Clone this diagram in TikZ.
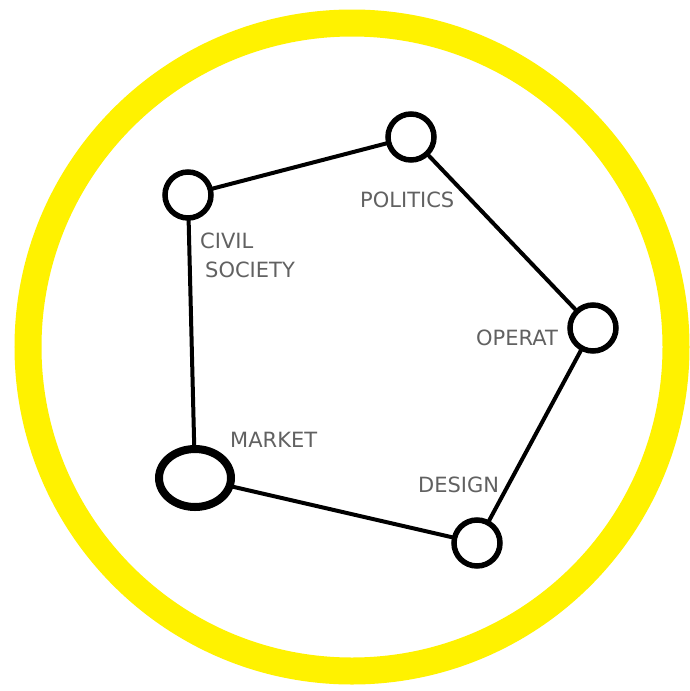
\documentclass[tikz,border=0pt]{standalone}
\usepackage{fontspec}
\usetikzlibrary{shapes.geometric}
\setsansfont{DejaVu Sans}
\begin{document}
\begin{tikzpicture}[x=1pt,y=-1pt,
  hub/.style={circle,draw=black,fill=white,line width=5.5pt,minimum size=46pt,inner sep=0pt},
  bighub/.style={ellipse,draw=black,fill=white,line width=8pt,minimum width=72pt,minimum height=58pt,inner sep=0pt},
  link/.style={line width=4pt,black,line cap=round},
  lab/.style={text=black!62,font=\fontsize{21}{28}\selectfont\sffamily,inner sep=0pt,align=left}]
\useasboundingbox (0,0) rectangle (689,691);
\fill[white] (0,0) rectangle (689,691);
\draw[line width=27pt,yellow] (352,347) circle (324);
% labels
\node[lab,anchor=west] (tpol) at (360,200) {POLITICS};
\node[lab,anchor=west] (tciv) at (200,241) {CIVIL};
\node[lab,anchor=west] (tsoc) at (205,270) {SOCIETY};
\node[lab,anchor=west] (tope) at (476,338) {OPERAT};
\node[lab,anchor=west] (tmar) at (230,440) {MARKET};
\node[lab,anchor=west] (tdes) at (418,485) {DESIGN};
% hubs
\coordinate (pc) at (411,137);
\coordinate (cc) at (188,195);
\coordinate (oc) at (593,328);
\coordinate (mc) at (195,478);
\coordinate (dc) at (477,543);
\draw[link] (cc) -- (pc) -- (oc) -- (dc) -- (mc) -- (cc);
\node[hub] (pol) at (pc) {};
\node[hub] (civ) at (cc) {};
\node[hub] (ope) at (oc) {};
\node[bighub] (mar) at (mc) {};
\node[hub] (des) at (dc) {};
\end{tikzpicture}
\end{document}
